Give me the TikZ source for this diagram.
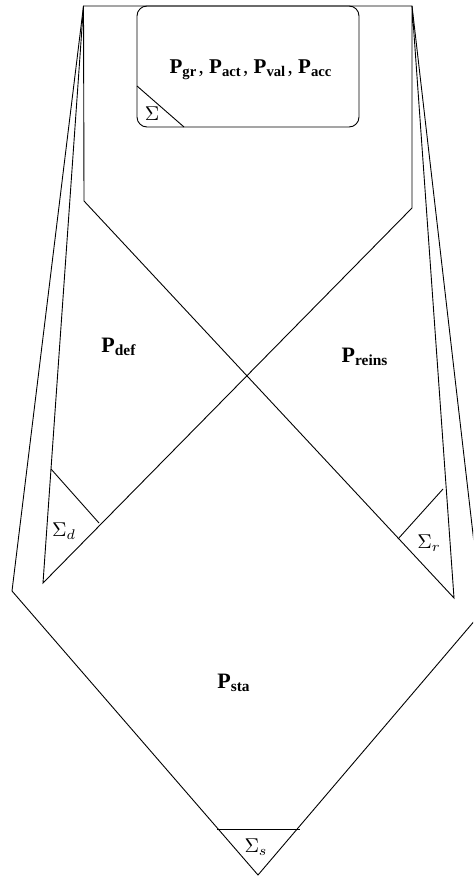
\documentclass[tikz,border=0pt]{standalone}
\usepackage{amsmath}
\usepackage{fontspec}
\usepackage{tikz}
\usetikzlibrary{calc}
\newfontfamily\regfont{Liberation Serif}
\newcommand{\preg}[1]{\textbf{P}\textsubscript{\textbf{#1}}}
\tikzset{
	edge/.style     ={draw=black, line width=0.45pt},
	sigline/.style  ={draw=black, line width=0.45pt},
	reglabel/.style ={font=\regfont\fontsize{11}{13}\selectfont, inner sep=0pt},
	toplabel/.style ={font=\regfont\fontsize{10.5}{12.5}\selectfont, inner sep=0pt},
	siglabel/.style ={inner sep=0pt},
}

\begin{document}
\begin{tikzpicture}[x=0.5pt, y=-0.5pt]
	\useasboundingbox (0,0) rectangle (473,877);
	\clip (0,0) rectangle (473,877);
	% corners of the regions
	\coordinate (tl) at (83.5,6);
	\coordinate (tr) at (412,6);
	\coordinate (pl) at (84,201);
	\coordinate (pr) at (412,208);
	\coordinate (il) at (43,583);
	\coordinate (ir) at (454,598);
	\coordinate (ol) at (12,591);
	\coordinate (or) at (482,612);
	\coordinate (bot) at (258,875);
	% outer region
	\draw[edge] (tl) -- (tr) -- (or) -- (bot) -- (ol) -- cycle;
	% inner regions and the cross
	\draw[edge] (tl) -- (il) -- (pr) -- (tr) -- (ir) -- (pl) -- (tl);
	% top box
	\draw[edge, rounded corners=5pt] (137,6) rectangle (359,127);
	\draw[sigline] (137,86) -- (184,127);
	% boundary pieces
	\draw[sigline] (51,469) -- (99,523);
	\draw[sigline] (398,539) -- (443,489);
	\draw[sigline] (217,829) -- (300,829);
	% labels
	\node[toplabel] (ptop) at (251,70) {\preg{gr}\kern0.7pt, \preg{act}\kern0.7pt, \preg{val}\kern0.7pt, \preg{acc}};
	\node[reglabel] (pdef) at (119,347) {\preg{def}};
	\node[reglabel] (preins) at (365,357) {\preg{reins}};
	\node[reglabel] (psta) at (234,683) {\preg{sta}};
	\node[siglabel] (sig) at (152,114) {$\Sigma$};
	\node[siglabel] (sigd) at (64,531) {$\Sigma_d$};
	\node[siglabel] (sigr) at (429,543) {$\Sigma_r$};
	\node[siglabel] (sigs) at (256,847) {$\Sigma_s$};
\end{tikzpicture}
\end{document}
